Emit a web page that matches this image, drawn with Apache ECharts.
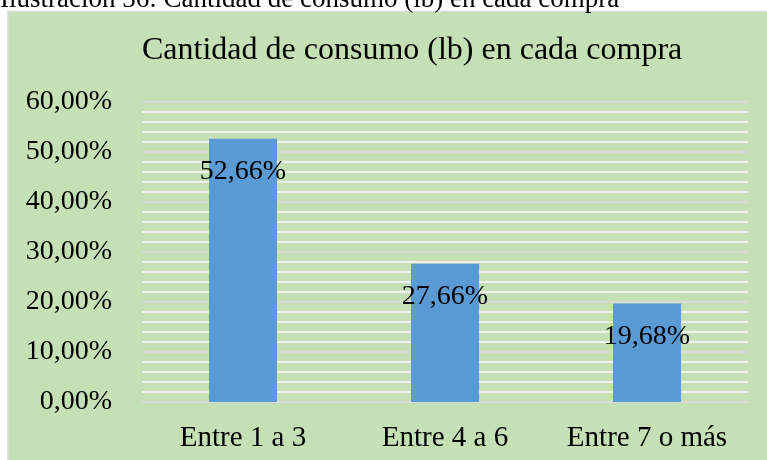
<!DOCTYPE html>
<html>
<head>
<meta charset="utf-8">
<script src="https://cdn.jsdelivr.net/npm/echarts@6/dist/echarts.min.js"></script>
<style>
html,body{margin:0;padding:0;background:#fff;}
#chart{width:767px;height:460px;}
</style>
</head>
<body>
<div id="chart"></div>
<script>
const caption = 'Ilustración 36: Cantidad de consumo (lb) en cada compra';
const chartTitle = 'Cantidad de consumo (lb) en cada compra';
const categories = ['Entre 1 a 3', 'Entre 4 a 6', 'Entre 7 o más'];
const values = [52.66, 27.66, 19.68];
const yTicks = [0, 10, 20, 30, 40, 50, 60];

const fmt = v => v.toFixed(2).replace('.', ',') + '%';
const font = '"Liberation Serif", "Times New Roman", serif';

const chart = echarts.init(document.getElementById('chart'));
chart.setOption({
  backgroundColor: 'transparent',
  animation: false,
  graphic: [
    {
      type: 'rect', z: -100, silent: true,
      shape: { x: 8, y: 11.5, width: 770, height: 460 },
      style: { fill: '#C5E0B4', stroke: '#D9D9D9', lineWidth: 1.5 }
    },
    {
      type: 'text', left: 0, top: -14, silent: true,
      style: { text: caption, font: '27px ' + font, fill: '#000' }
    }
  ],
  title: {
    text: chartTitle,
    left: 137, top: 30,
    textStyle: { fontFamily: font, fontSize: 32, fontWeight: 'normal', color: '#000' }
  },
  grid: { left: 142, right: 19, top: 102, bottom: 58, containLabel: false },
  xAxis: {
    type: 'category',
    data: categories,
    axisLine: { show: true, lineStyle: { color: '#D9D9D9', width: 2 } },
    axisTick: { show: false },
    axisLabel: { interval: 0, hideOverlap: false, fontFamily: font, fontSize: 29, color: '#000', margin: 22 }
  },
  yAxis: {
    type: 'value',
    min: yTicks[0], max: yTicks[yTicks.length - 1], interval: 10,
    axisLine: { show: false },
    axisTick: { show: false },
    axisLabel: { fontFamily: font, fontSize: 28, color: '#000', margin: 30, formatter: v => fmt(v) },
    splitLine: { show: true, lineStyle: { color: '#D9D9D9', width: 2 } },
    minorTick: { show: false, splitNumber: 5 },
    minorSplitLine: { show: true, lineStyle: { color: '#F2F2F2', width: 2 } }
  },
  series: [{
    type: 'bar',
    data: values,
    barWidth: 68,
    itemStyle: { color: '#5B9BD5' },
    label: {
      show: true,
      position: 'insideTop',
      distance: 19,
      fontFamily: font, fontSize: 28, color: '#000',
      formatter: p => fmt(p.value)
    }
  }]
});
</script>
</body>
</html>
